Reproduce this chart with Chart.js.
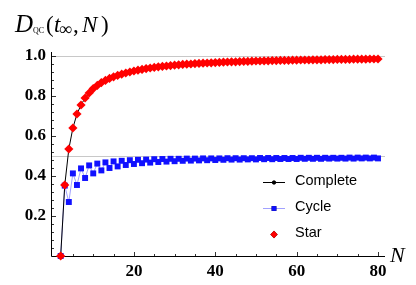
<!DOCTYPE html>
<html>
<head>
<meta charset="utf-8">
<script src="https://cdn.jsdelivr.net/npm/chart.js@4"></script>
<style>
  html, body { margin: 0; padding: 0; background: #fff; }
</style>
</head>
<body>
<canvas id="trendChart" width="416" height="285"></canvas>
<script>
// N = number of nodes
const nValues = [2, 3, 4, 5, 6, 7, 8, 9, 10, 11, 12, 13, 14, 15, 16, 17, 18, 19, 20,
  21, 22, 23, 24, 25, 26, 27, 28, 29, 30, 31, 32, 33, 34, 35, 36, 37, 38, 39, 40,
  41, 42, 43, 44, 45, 46, 47, 48, 49, 50, 51, 52, 53, 54, 55, 56, 57, 58, 59, 60,
  61, 62, 63, 64, 65, 66, 67, 68, 69, 70, 71, 72, 73, 74, 75, 76, 77, 78, 79, 80];

const completeValues = [0, 0.355, 0.535, 0.64, 0.71, 0.755, 0.79, 0.815, 0.837, 0.853,
  0.867, 0.878, 0.888, 0.896, 0.903, 0.909, 0.915, 0.92, 0.925, 0.929,
  0.933, 0.937, 0.94, 0.943, 0.946, 0.948, 0.95, 0.952, 0.954, 0.956,
  0.958, 0.959, 0.96, 0.962, 0.963, 0.964, 0.965, 0.966, 0.967, 0.968,
  0.969, 0.97, 0.971, 0.971, 0.972, 0.973, 0.973, 0.974, 0.975, 0.975,
  0.976, 0.976, 0.977, 0.977, 0.978, 0.978, 0.978, 0.979, 0.979, 0.98,
  0.98, 0.98, 0.981, 0.981, 0.981, 0.982, 0.982, 0.982, 0.983, 0.983,
  0.983, 0.983, 0.984, 0.984, 0.984, 0.984, 0.985, 0.985, 0.985];

const cycleValues = [0, 0.352, 0.27, 0.413, 0.355, 0.438, 0.39, 0.453, 0.413, 0.462,
  0.428, 0.468, 0.44, 0.473, 0.448, 0.476, 0.455, 0.479, 0.46, 0.481,
  0.464, 0.482, 0.467, 0.484, 0.47, 0.485, 0.472, 0.486, 0.474, 0.486,
  0.476, 0.487, 0.477, 0.487, 0.478, 0.488, 0.479, 0.488, 0.48, 0.488,
  0.481, 0.489, 0.482, 0.489, 0.482, 0.489, 0.483, 0.489, 0.483, 0.49,
  0.484, 0.49, 0.484, 0.49, 0.485, 0.49, 0.485, 0.49, 0.485, 0.491,
  0.486, 0.491, 0.486, 0.491, 0.486, 0.491, 0.487, 0.491, 0.487, 0.491,
  0.487, 0.492, 0.487, 0.492, 0.488, 0.492, 0.488, 0.492, 0.488];

const starValues = [0, 0.355, 0.535, 0.64, 0.71, 0.755, 0.79, 0.815, 0.837, 0.853,
  0.867, 0.878, 0.888, 0.896, 0.903, 0.909, 0.915, 0.92, 0.925, 0.929,
  0.933, 0.937, 0.94, 0.943, 0.946, 0.948, 0.95, 0.952, 0.954, 0.956,
  0.958, 0.959, 0.96, 0.962, 0.963, 0.964, 0.965, 0.966, 0.967, 0.968,
  0.969, 0.97, 0.971, 0.971, 0.972, 0.973, 0.973, 0.974, 0.975, 0.975,
  0.976, 0.976, 0.977, 0.977, 0.978, 0.978, 0.978, 0.979, 0.979, 0.98,
  0.98, 0.98, 0.981, 0.981, 0.981, 0.982, 0.982, 0.982, 0.983, 0.983,
  0.983, 0.983, 0.984, 0.984, 0.984, 0.984, 0.985, 0.985, 0.985];

const xTicks = [20, 40, 60, 80];
const yTicks = [0.2, 0.4, 0.6, 0.8, 1.0];
const gridValues = [0.5, 1.0];

const toPoints = vals => nValues.map((n, i) => ({ x: n, y: vals[i] }));
const serif = '"Liberation Serif", "DejaVu Serif", serif';
const sans = '"Liberation Sans", Arial, sans-serif';

// axes with inward ticks, drawn Mathematica-style
const framePlugin = {
  id: 'frame',
  beforeDatasetsDraw(chart) {
    const { ctx, chartArea: a, scales: { x, y } } = chart;
    const x0 = Math.round(a.left) + 0.5;
    const y0 = Math.round(a.bottom) + 0.5;
    ctx.save();
    ctx.lineWidth = 1;
    ctx.strokeStyle = '#c8c8c8';
    gridValues.forEach(v => {
      const py = Math.round(y.getPixelForValue(v)) + 0.5;
      ctx.beginPath(); ctx.moveTo(x0, py); ctx.lineTo(a.right, py); ctx.stroke();
    });
    ctx.strokeStyle = '#000';
    ctx.beginPath();
    ctx.moveTo(x0, a.top); ctx.lineTo(x0, y0); ctx.lineTo(a.right, y0);
    ctx.stroke();
    ctx.lineWidth = 0.8;
    for (let v = 5; v <= 80; v += 5) {
      const px = Math.round(x.getPixelForValue(v)) + 0.5;
      const len = v % 20 === 0 ? 4.5 : 2.5;
      ctx.beginPath(); ctx.moveTo(px, y0); ctx.lineTo(px, y0 - len); ctx.stroke();
    }
    for (let k = 1; k <= 25; k++) {
      const v = k * 0.04;
      const py = Math.round(y.getPixelForValue(v)) + 0.5;
      const len = k % 5 === 0 ? 4.5 : 2.5;
      ctx.beginPath(); ctx.moveTo(x0, py); ctx.lineTo(x0 + len, py); ctx.stroke();
    }
    ctx.restore();
  },
  afterDraw(chart) {
    const { ctx } = chart;
    ctx.save();
    ctx.fillStyle = '#000';
    ctx.textBaseline = 'alphabetic';
    // y-axis label
    ctx.font = 'italic 25px ' + serif;
    ctx.fillText('D', 15, 32);
    ctx.font = '8px ' + serif;
    ctx.fillText('QC', 33, 33);
    ctx.font = '23px ' + serif;
    ctx.fillText('(', 46, 32);
    ctx.font = 'italic 23px ' + serif;
    ctx.fillText('t', 54, 32);
    ctx.font = '18px ' + serif;
    ctx.fillText('\u221E', 59, 35);
    ctx.font = '23px ' + serif;
    ctx.fillText(',', 73, 32);
    ctx.font = 'italic 23px ' + serif;
    ctx.fillText('N', 82, 32);
    ctx.font = '23px ' + serif;
    ctx.fillText(')', 101, 32);
    // x-axis label
    ctx.font = 'italic 22px ' + serif;
    ctx.fillText('N', 390, 262);

    // legend
    const items = chart.data.datasets;
    const rows = [182, 208, 234];
    ctx.font = '14.5px ' + sans;
    ctx.textBaseline = 'middle';
    items.slice().reverse().forEach((ds, i) => {
      const yy = rows[i];
      if (ds.showLine !== false) {
        ctx.strokeStyle = ds.borderColor;
        ctx.lineWidth = 1;
        ctx.beginPath(); ctx.moveTo(263, yy + 0.5); ctx.lineTo(285, yy + 0.5); ctx.stroke();
      }
      Chart.helpers.drawPoint(ctx, {
        pointStyle: ds.pointStyle, radius: ds.pointRadius * 0.8, borderWidth: 0
      }, 274, yy + 0.5);
      ctx.fillStyle = ds.pointBackgroundColor;
      ctx.fill();
      ctx.fillStyle = '#000';
      ctx.fillText(ds.label, 295, yy - 1);
    });
    ctx.restore();
  }
};

const ctx = document.getElementById('trendChart').getContext('2d');

const trendChart = new Chart(ctx, {
  type: 'line',
  data: {
    datasets: [
      {
        label: 'Star',
        data: toPoints(starValues),
        showLine: false,
        pointStyle: 'rectRot',
        pointRadius: 4.6,
        pointBackgroundColor: '#ff0000',
        pointBorderWidth: 0,
        borderColor: '#ff0000',
        order: 0
      },
      {
        label: 'Cycle',
        data: toPoints(cycleValues),
        borderColor: 'rgba(110,110,255,0.65)',
        borderWidth: 1,
        pointStyle: 'rect',
        pointRadius: 4.2,
        pointBackgroundColor: '#1010ff',
        pointBorderWidth: 0,
        order: 2
      },
      {
        label: 'Complete',
        data: toPoints(completeValues),
        borderColor: '#000',
        borderWidth: 1,
        pointStyle: 'circle',
        pointRadius: 2.4,
        pointBackgroundColor: '#000',
        pointBorderWidth: 0,
        order: 1
      }
    ]
  },
  options: {
    responsive: false,
    animation: false,
    layout: { padding: { top: 52, right: 31, left: 0, bottom: 0 } },
    elements: { line: { tension: 0 } },
    datasets: { line: { clip: false } },
    plugins: {
      legend: { display: false },
      tooltip: { enabled: false }
    },
    scales: {
      x: {
        type: 'linear',
        min: -0.38,
        max: 81.72,
        grid: { display: false, drawTicks: false },
        border: { display: false },
        afterBuildTicks: s => { s.ticks = xTicks.map(v => ({ value: v })); },
        afterFit: s => { s.height = 29; },
        ticks: {
          padding: 5,
          color: '#000',
          font: { family: serif, size: 17, weight: 'bold' },
          maxRotation: 0
        }
      },
      y: {
        min: 0,
        max: 1.02,
        grid: { display: false, drawTicks: false },
        border: { display: false },
        afterBuildTicks: s => { s.ticks = yTicks.map(v => ({ value: v })); },
        afterFit: s => { s.width = 51; },
        ticks: {
          padding: 5,
          color: '#000',
          font: { family: serif, size: 17, weight: 'bold' },
          callback: v => v.toFixed(1)
        }
      }
    }
  },
  plugins: [framePlugin]
});
</script>
</body>
</html>
